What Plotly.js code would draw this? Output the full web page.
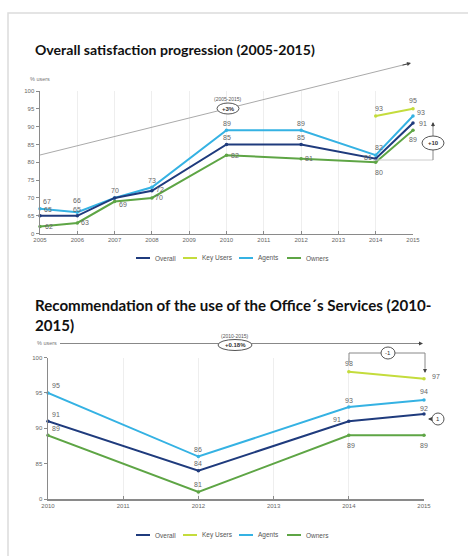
<!DOCTYPE html>
<html>
<head>
<meta charset="utf-8">
<script src="https://cdn.plot.ly/plotly-3.0.1.min.js"></script>
<style>html,body{margin:0;padding:0;background:#fff;}#chart{width:468px;height:556px;}</style>
</head>
<body>
<div id="chart"></div>
<script>
// ---------- DATA ----------
const seriesNames = ['Overall', 'Key Users', 'Agents', 'Owners'];

// Chart 1: Overall satisfaction progression (2005-2015)
const years1 = [2005, 2006, 2007, 2008, 2010, 2012, 2014, 2015];
const overall1 = [65, 65, 70, 72, 85, 85, 81, 91];
const agents1 = [67, 66, 70, 73, 89, 89, 82, 93];
const owners1 = [62, 63, 69, 70, 82, 81, 80, 89];
const keyYears1 = [2014, 2015];
const keyUsers1 = [93, 95];
const xTicks1 = [2005, 2006, 2007, 2008, 2009, 2010, 2011, 2012, 2013, 2014, 2015];
const yTickVals1 = [60, 65, 70, 75, 80, 85, 90, 95, 100];
const yTickText1 = ['0', '65', '70', '75', '80', '85', '90', '95', '100'];

// Chart 2: Recommendation of the use of the Office's Services (2010-2015)
const years2 = [2010, 2012, 2014, 2015];
const overall2 = [91, 84, 91, 92];
const agents2 = [95, 86, 93, 94];
const owners2 = [89, 81, 89, 89];
const keyYears2 = [2014, 2015];
const keyUsers2 = [98, 97];
const xTicks2 = [2010, 2011, 2012, 2013, 2014, 2015];
const yTickVals2 = [80, 85, 90, 95, 100];
const yTickText2 = ['0', '85', '90', '95', '100'];

// ---------- STYLE ----------
const colors = {'Overall': '#1f3b7d', 'Key Users': '#c4dc3c', 'Agents': '#35b2e3', 'Owners': '#5ea545'};
const W = 468, H = 556;
const px = x => x / W;
const py = y => 1 - y / H;
const labelFont = {family: 'Liberation Sans, Arial, sans-serif', size: 7, color: '#666'};
const tickFont = {family: 'Liberation Sans, Arial, sans-serif', size: 6, color: '#666'};

const shapes = [];
const annotations = [];

// label offsets in pixels [dx, dy(up)] per point (styling only)
function series(x, y, name, xa, ya, offsets, hide) {
  y.forEach((v, i) => {
    if (hide && hide.indexOf(i) >= 0) return;
    annotations.push({xref: xa, yref: ya, x: x[i], y: v, text: String(v), showarrow: false,
      xanchor: 'center', yanchor: 'middle', xshift: offsets[i][0], yshift: offsets[i][1], font: labelFont});
  });
  return {
    type: 'scatter', mode: 'lines+markers', x: x, y: y, name: name,
    xaxis: xa, yaxis: ya,
    line: {color: colors[name], width: 2},
    marker: {color: colors[name], size: 3.5},
    cliponaxis: false, showlegend: false, hoverinfo: 'x+y+name'
  };
}

const traces = [
  series(years1, owners1, 'Owners', 'x', 'y',
    [[9,0],[8,0],[8,-3],[7,0],[8,0],[8,0],[3,-10],[0,-9]]),
  series(years1, agents1, 'Agents', 'x', 'y',
    [[7,7],[0,12],[0,7],[0,7],[0,7],[0,7],[3,8],[8,3]]),
  series(years1, overall1, 'Overall', 'x', 'y',
    [[8,6],[0,6],[0,7],[8,1],[0,7],[0,7],[-8,1],[10,0]], [2]),
  series(keyYears1, keyUsers1, 'Key Users', 'x', 'y', [[3,7],[0,8]]),

  series(years2, owners2, 'Owners', 'x2', 'y2', [[8,7],[0,7],[2,-10],[0,-10]]),
  series(years2, agents2, 'Agents', 'x2', 'y2', [[8,7],[0,7],[0,7],[0,8]]),
  series(years2, overall2, 'Overall', 'x2', 'y2', [[8,7],[0,7],[-12,2],[0,6]]),
  series(keyYears2, keyUsers2, 'Key Users', 'x2', 'y2', [[0,8],[12,2]])
];

function xAxis(domain, range, ticks, anchor) {
  return {domain: domain, range: range, anchor: anchor, tickvals: ticks, ticktext: ticks.map(String),
    showgrid: true, gridcolor: '#eeeeee', gridwidth: 1, showline: true, linecolor: '#8a8a8a', linewidth: 1.5,
    ticks: 'inside', ticklen: 3, tickcolor: '#8a8a8a', tickfont: tickFont, zeroline: false, fixedrange: true};
}
function yAxis(domain, range, vals, text, anchor) {
  return {domain: domain, range: range, anchor: anchor, tickvals: vals, ticktext: text,
    showgrid: false, showline: true, linecolor: '#8a8a8a', linewidth: 1.5,
    ticks: 'outside', ticklen: 3, tickcolor: '#8a8a8a', tickfont: tickFont, zeroline: false, fixedrange: true};
}

function line(x0, y0, x1, y1, color, width, dash) {
  shapes.push({type: 'line', xref: 'paper', yref: 'paper', x0: px(x0), y0: py(y0), x1: px(x1), y1: py(y1),
    line: {color: color, width: width || 1, dash: dash || 'solid'}, layer: 'above'});
}
function ellipse(cx, cy, rx, ry) {
  shapes.push({type: 'circle', xref: 'paper', yref: 'paper', x0: px(cx - rx), y0: py(cy + ry), x1: px(cx + rx), y1: py(cy - ry),
    fillcolor: '#ffffff', line: {color: '#555', width: 1}, layer: 'above'});
}
function text(x, y, t, size, color, xanchor, extra) {
  annotations.push(Object.assign({xref: 'paper', yref: 'paper', x: px(x), y: py(y), text: t, showarrow: false,
    xanchor: xanchor || 'center', yanchor: 'middle', font: {family: 'Liberation Sans, Arial, sans-serif', size: size, color: color || '#555'}}, extra || {}));
}
function arrowHead(x, y, ax, ay) {
  annotations.push({xref: 'paper', yref: 'paper', x: px(x), y: py(y), ax: ax, ay: ay, text: '', showarrow: true,
    arrowhead: 2, arrowsize: 0.8, arrowwidth: 1, arrowcolor: '#444'});
}

// frame
shapes.push({type: 'rect', xref: 'paper', yref: 'paper', x0: px(8), y0: py(600), x1: px(500), y1: py(13),
  line: {color: '#dcdcdc', width: 1.5}, fillcolor: 'rgba(0,0,0,0)', layer: 'below'});

// ---- chart 1 decorations ----
annotations.push({xref: 'paper', yref: 'paper', x: px(33), y: py(49), xanchor: 'left', yanchor: 'middle', showarrow: false,
  text: '<b>Overall satisfaction progression (2005-2015)</b>', font: {family: 'Lato, Open Sans, sans-serif', size: 14.1, color: '#111'}});
text(28, 79, '% users', 5.5, '#777', 'left');
line(40, 155, 409, 63.5, '#aaaaaa', 1);
arrowHead(411, 63, -10, 2.5);
text(228, 99, '(2005-2015)', 5, '#555');
ellipse(228, 108.5, 11, 5.5);
text(228, 108.5, '<b>+3%</b>', 6, '#333');
line(373, 160, 433, 160, '#cccccc', 1);
line(433, 126, 433, 160, '#888', 1);
arrowHead(433, 122, 0, 6);
ellipse(433, 143, 11, 7);
text(433, 143, '<b>+10</b>', 6, '#333');

// ---- chart 2 decorations ----
annotations.push({xref: 'paper', yref: 'paper', x: px(33), y: py(315), xanchor: 'left', yanchor: 'middle', align: 'left', showarrow: false,
  text: '<b>Recommendation of the use of the Office´s Services (2010-<br>2015)</b>', font: {family: 'Lato, Open Sans, sans-serif', size: 15.1, color: '#111'}});
text(35, 343, '% users', 5.5, '#777', 'left');
line(60, 343.5, 420, 343.5, '#888', 1);
arrowHead(423, 343.5, -6, 0);
text(235, 336, '(2010-2015)', 5, '#555');
ellipse(235, 345, 17, 5.5);
text(235, 345, '<b>+0.18%</b>', 6, '#333');
line(349, 362, 349, 353, '#888', 1);
line(349, 353, 425, 353, '#888', 1);
line(425, 353, 425, 368, '#888', 1);
arrowHead(425, 373, 0, -6);
ellipse(388, 353, 7, 6);
text(388, 353, '-1', 6, '#333');
ellipse(438, 419, 6, 6);
text(438, 419, '1', 6, '#333');
arrowHead(428, 419, 4, 0);

// ---- legends (built from series names/colors) ----
const legendX = [136, 183, 239, 287];
[258, 535].forEach(ly => {
  seriesNames.forEach((n, i) => {
    line(legendX[i], ly, legendX[i] + 14, ly, colors[n], 2);
    text(legendX[i] + 17, ly, n, 6.5, '#555', 'left');
  });
});

// source (cut at the bottom edge, as in the reference)
text(338, 560, 'Source:', 15, '#555', 'left');
text(400, 560, 'OHIM', 15, '#555', 'left');

const layout = {
  width: W, height: H, margin: {l: 0, r: 0, t: 0, b: 0},
  paper_bgcolor: '#ffffff', plot_bgcolor: 'rgba(0,0,0,0)', showlegend: false,
  font: {family: 'Liberation Sans, Arial, sans-serif'},
  xaxis: xAxis([px(40), px(413)], [2005, 2015], xTicks1, 'y'),
  yaxis: yAxis([py(233.6), py(91)], [60, 100], yTickVals1, yTickText1, 'x'),
  xaxis2: xAxis([px(48), px(424)], [2010, 2015], xTicks2, 'y2'),
  yaxis2: yAxis([py(499), py(357.5)], [80, 100], yTickVals2, yTickText2, 'x2'),
  shapes: shapes, annotations: annotations
};

Plotly.newPlot('chart', traces, layout, {displayModeBar: false, staticPlot: true});
</script>
</body>
</html>
